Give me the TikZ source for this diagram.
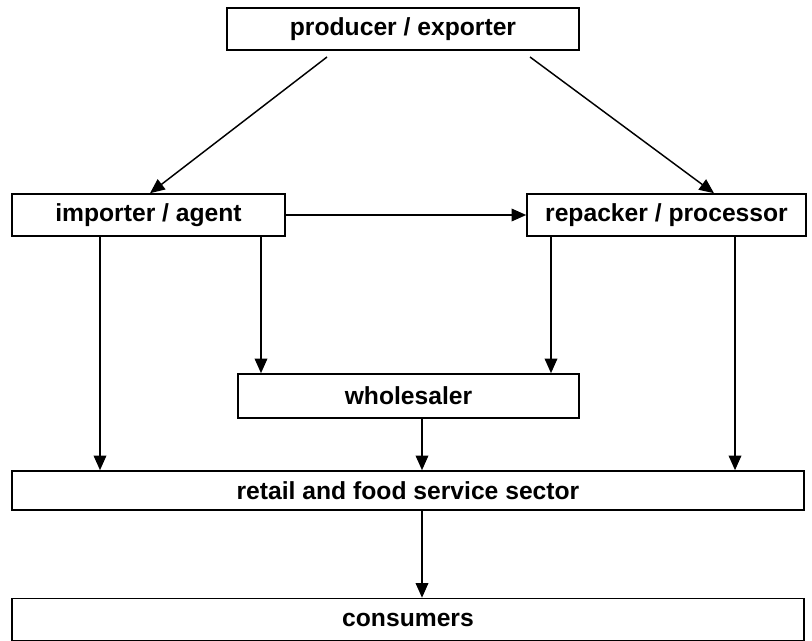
\documentclass[tikz,border=0pt]{standalone}
\usepackage{fontspec}
\setmainfont{Liberation Sans}
\usetikzlibrary{arrows.meta}
\begin{document}
\begin{tikzpicture}[x=0.75pt,y=-0.75pt,
  box/.style={draw,line width=1.2pt,rectangle,inner sep=0pt,
    font=\fontsize{18.5}{20}\selectfont\bfseries},
  arr/.style={line width=1.1pt,-{Triangle[length=11pt,width=9.5pt]}}]
\useasboundingbox (0,0) rectangle (812,641);
\node[box,minimum width=352*0.75pt,minimum height=42*0.75pt] (prod) at (403,29) {producer / exporter};
\node[box,minimum width=273*0.75pt,minimum height=42*0.75pt] (imp) at (148.5,215) {importer / agent};
\node[box,minimum width=279*0.75pt,minimum height=42*0.75pt] (rep) at (666.5,215) {repacker / processor};
\node[box,minimum width=341*0.75pt,minimum height=44*0.75pt] (whole) at (408.5,396) {wholesaler};
\node[box,minimum width=792*0.75pt,minimum height=39*0.75pt] (retail) at (408,490.5) {retail and food service sector};
\node[box,minimum width=792*0.75pt,minimum height=42*0.75pt] (cons) at (408,619.5) {consumers};
% diagonal feeds from the producer
\coordinate (pl) at (327,57);
\coordinate (pr) at (530,57);
\draw[arr] (pl) -- (imp.north -| 150,0);
\draw[arr] (pr) -- (rep.north -| 714,0);
\draw[arr] (imp.east) -- (rep.west);
% vertical columns
\coordinate (c1) at (100,0);
\coordinate (c2) at (261,0);
\coordinate (c3) at (551,0);
\coordinate (c4) at (735,0);
\coordinate (c5) at (422,0);
\draw[arr] (imp.south -| c1) -- (retail.north -| c1);
\draw[arr] (imp.south -| c2) -- (whole.north -| c2);
\draw[arr] (rep.south -| c3) -- (whole.north -| c3);
\draw[arr] (rep.south -| c4) -- (retail.north -| c4);
\draw[arr] (whole.south -| c5) -- (retail.north -| c5);
\draw[arr] (retail.south -| c5) -- (cons.north -| c5);
\end{tikzpicture}
\end{document}
